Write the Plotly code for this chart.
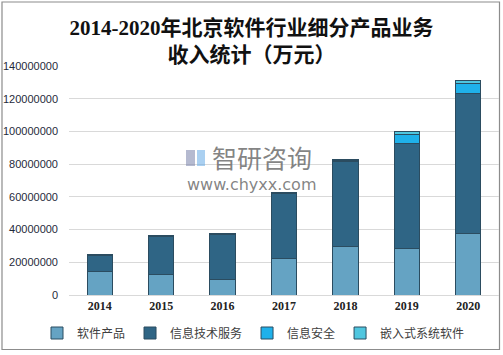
import plotly.graph_objects as go

years = ["2014", "2015", "2016", "2017", "2018", "2019", "2020"]
software_products = [14300000, 12400000, 9400000, 22200000, 29500000, 28300000, 37500000]
it_services = [9900000, 23400000, 27400000, 39700000, 52400000, 64500000, 85900000]
info_security = [200000, 300000, 300000, 300000, 400000, 5500000, 6100000]
embedded_software = [500000, 500000, 600000, 600000, 700000, 1800000, 1800000]

series_names = ["软件产品", "信息技术服务", "信息安全", "嵌入式系统软件"]
series_values = [software_products, it_services, info_security, embedded_software]
colors = ["#65a3c3", "#2f6585", "#1fb1ea", "#4fc6df"]

W, H = 503, 355
ML, MR, MT, MB = 69, 4, 66, 60

fig = go.Figure()
for name, vals, col in zip(series_names, series_values, colors):
    fig.add_trace(go.Bar(
        x=years, y=vals, name=name,
        marker=dict(color=col, line=dict(color="#2b4c60", width=1)),
    ))

pw = W - ML - MR
ph = H - MT - MB
def px_x(p):
    return (p - ML) / pw
def px_y(p):
    return (H - MB - p) / ph

shapes = [
    dict(type="rect", xref="paper", yref="paper",
         x0=px_x(2), x1=px_x(499.5), y0=px_y(349.5), y1=px_y(2),
         line=dict(color="#8c8c8c", width=1.2), fillcolor="rgba(0,0,0,0)", layer="below"),
    dict(type="rect", xref="paper", yref="paper",
         x0=px_x(186), x1=px_x(195), y0=px_y(166), y1=px_y(150),
         line=dict(width=0), fillcolor="rgba(120,130,170,0.55)"),
    dict(type="rect", xref="paper", yref="paper",
         x0=px_x(197), x1=px_x(205), y0=px_y(166), y1=px_y(150),
         line=dict(width=0), fillcolor="rgba(100,170,230,0.55)"),
]

annotations = [
    dict(text="智研咨询", xref="paper", yref="paper", x=px_x(262), y=px_y(157),
         xanchor="center", yanchor="middle", showarrow=False,
         font=dict(family="Noto Sans CJK SC", size=25, color="rgba(110,110,110,0.85)")),
    dict(text="www.chyxx.com", xref="paper", yref="paper", x=px_x(251), y=px_y(184),
         xanchor="center", yanchor="middle", showarrow=False,
         font=dict(family="DejaVu Sans", size=16, color="rgba(110,110,110,0.85)")),
]

fig.update_layout(
    width=W, height=H,
    barmode="stack",
    bargap=0.59,
    paper_bgcolor="white",
    plot_bgcolor="white",
    margin=dict(l=ML, r=MR, t=MT, b=MB, autoexpand=False),
    title=dict(
        text="2014-2020年北京软件行业细分产品业务<br>收入统计（万元）",
        x=0.5, xref="container", xanchor="center",
        y=1 - 35 / H, yanchor="top",
        font=dict(family="Liberation Serif, Noto Sans CJK SC", size=21, color="#111111", weight="bold"),
    ),
    xaxis=dict(
        type="category",
        showgrid=False,
        showline=True, linecolor="#d9d9d9", linewidth=1,
        ticks="",
        tickfont=dict(family="Liberation Serif", size=12, color="#222222", weight="bold"),
        fixedrange=True,
    ),
    yaxis=dict(
        range=[0, 140000000],
        dtick=20000000,
        tickformat="d",
        showgrid=True, gridcolor="#d9d9d9", gridwidth=1,
        zeroline=False,
        showline=False,
        ticks="",
        ticklabelstandoff=10,
        tickfont=dict(family="Liberation Sans", size=11, color="#1f2a3a"),
        fixedrange=True,
    ),
    legend=dict(
        orientation="h",
        x=px_x(37), xanchor="left",
        y=px_y(333), yanchor="middle",
        font=dict(family="Noto Sans CJK SC", size=12, color="#404040"),
        bgcolor="rgba(0,0,0,0)",
        itemwidth=30,
        traceorder="normal",
    ),
    shapes=shapes,
    annotations=annotations,
    showlegend=True,
)

fig.write_html("out.html", config={"displayModeBar": False},
               post_script="document.body.style.margin='0';")
